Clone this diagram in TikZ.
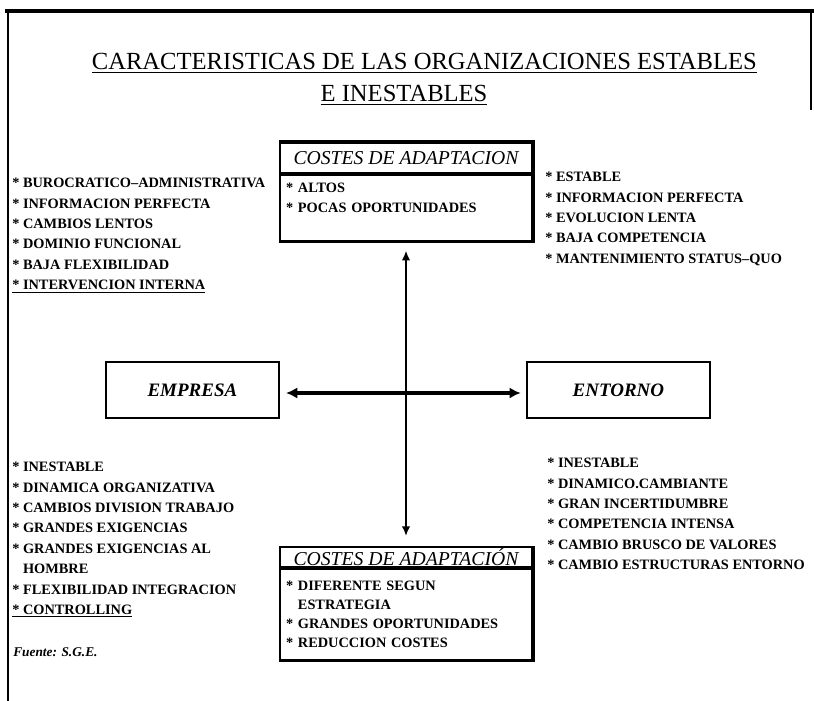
\documentclass[tikz,border=0pt]{standalone}
\usepackage{fontspec}
\setmainfont{Liberation Serif}
\usepackage{tikz}
\usetikzlibrary{arrows.meta, positioning}

\begin{document}
\begin{tikzpicture}[
    listtext/.style={anchor=north west, inner sep=0pt, align=left,
                     font=\fontsize{10.2}{14.5}\selectfont\bfseries},
    costhead/.style={rectangle, draw, line width=1.2pt, minimum width=6.3cm,
                     inner ysep=1pt, font=\fontsize{14}{16}\selectfont\itshape},
    costbody/.style={rectangle, draw, line width=1.2pt, minimum width=6.3cm,
                     inner xsep=0.15cm, text width=6cm, align=left,
                     font=\fontsize{10.2}{14.5}\selectfont\bfseries},
    actor/.style={rectangle, draw, line width=1.6pt, minimum height=1.4cm,
                  font=\fontsize{13.5}{16}\selectfont\bfseries\itshape},
    shadowedge/.style={line width=2.6pt},
    hlink/.style={line width=2.8pt, {Latex[length=8pt,width=8pt]}-{Latex[length=8pt,width=8pt]}},
    vlink/.style={line width=1.8pt, {Latex[length=7pt,width=6pt]}-{Latex[length=7pt,width=6pt]}}
]
    \useasboundingbox (0,0) rectangle (20.35,-17.525);
    \draw[line width=2.4pt] (0.125,-0.275) -- (20.35,-0.275);
    \draw[line width=1.5pt] (0.2,-0.275) -- (0.2,-17.525);
    \draw[line width=1.5pt] (20.275,-0.275) -- (20.275,-2.75);

    \node[anchor=base, font=\fontsize{17.5}{20}\selectfont] (title) at (10.61,-1.75)
        {\underline{CARACTERISTICAS DE LAS ORGANIZACIONES ESTABLES}};
    \node[anchor=base, font=\fontsize{17.5}{20}\selectfont] (subtitle) at (10.1,-2.55)
        {\underline{E INESTABLES}};

    \node[costhead, minimum height=0.75cm] (tophead) at (10.15,-3.95) {COSTES DE ADAPTACION};
    \node[costbody, minimum height=1.65cm, below=0pt of tophead] (topbody)
        {* ALTOS\\{}* POCAS OPORTUNIDADES\\ ~};

    \node[listtext] (stableorg) at (0.3,-4.45) {* BUROCRATICO--ADMINISTRATIVA\\* INFORMACION PERFECTA\\* CAMBIOS LENTOS\\* DOMINIO FUNCIONAL\\* BAJA FLEXIBILIDAD\\\underline{* INTERVENCION INTERNA}};
    \node[listtext] (stableenv) at (13.625,-4.3) {* ESTABLE\\* INFORMACION PERFECTA\\* EVOLUCION LENTA\\* BAJA COMPETENCIA\\* MANTENIMIENTO STATUS--QUO};

    \node[actor, minimum width=4.325cm] (empresa) at (4.81,-9.75) {EMPRESA};
    \node[actor, minimum width=4.575cm] (entorno) at (15.46,-9.75) {ENTORNO};

    \node[listtext] (unstableorg) at (0.3,-11.55) {* INESTABLE\\* DINAMICA ORGANIZATIVA\\* CAMBIOS DIVISION TRABAJO\\* GRANDES EXIGENCIAS\\* GRANDES EXIGENCIAS AL\\\phantom{* }HOMBRE\\* FLEXIBILIDAD INTEGRACION\\\underline{* CONTROLLING}};
    \node[listtext] (unstableenv) at (13.675,-11.45) {* INESTABLE\\* DINAMICO.CAMBIANTE\\* GRAN INCERTIDUMBRE\\* COMPETENCIA INTENSA\\* CAMBIO BRUSCO DE VALORES\\* CAMBIO ESTRUCTURAS ENTORNO};

    \node[costhead, minimum height=0.5cm] (bothead) at (10.15,-13.925) {COSTES DE ADAPTACIÓN};
    \node[costbody, minimum height=2.275cm, below=0pt of bothead,
          font=\fontsize{10.2}{13.6}\selectfont\bfseries] (botbody)
        {* DIFERENTE SEGUN\\\phantom{* }ESTRATEGIA\\{}* GRANDES OPORTUNIDADES\\{}* REDUCCION COSTES};

    \node[anchor=west, inner sep=0pt, font=\fontsize{9.5}{11}\selectfont\bfseries\itshape] (source) at (0.325,-16.3) {Fuente: S.G.E.};

    \draw[shadowedge] (tophead.north west) -- (tophead.north east) -- (topbody.south east) -- (topbody.south west);
    \draw[shadowedge] (bothead.north east) -- (botbody.south east) -- (botbody.south west);

    \draw[hlink, shorten <=0.15cm, shorten >=0.125cm] ([yshift=-0.075cm]empresa.east) -- ([yshift=-0.075cm]entorno.west);
    \draw[vlink, shorten <=0.225cm, shorten >=0.25cm] (topbody.south) -- (bothead.north);
\end{tikzpicture}
\end{document}
